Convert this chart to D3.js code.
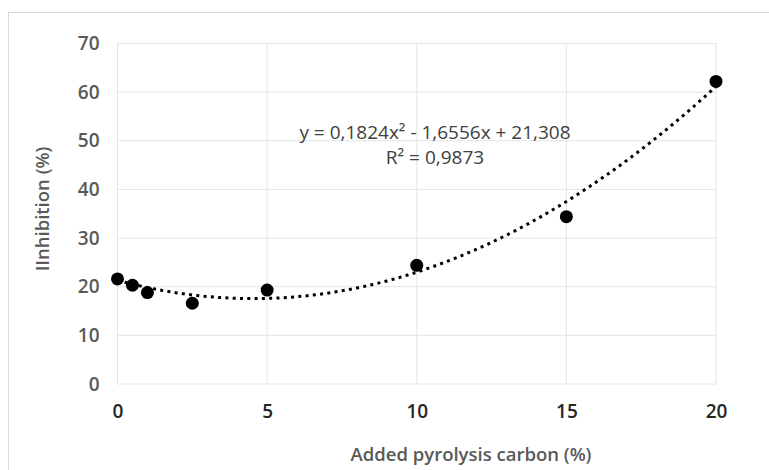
<!DOCTYPE html>
<html>
<head>
<meta charset="utf-8">
<script src="https://cdn.jsdelivr.net/npm/d3@7"></script>
<style>
  body { margin: 0; background: #fff; }
  svg { display: block; }
  svg text { font-family: "Open Sans", sans-serif; }
</style>
</head>
<body>
<div id="chart"></div>
<script>
// data
const carbon = [0, 0.5, 1, 2.5, 5, 10, 15, 20];
const inhibition = [21.6, 20.3, 18.8, 16.6, 19.3, 24.4, 34.4, 62.2];
const xTicks = [0, 5, 10, 15, 20];
const yTicks = [0, 10, 20, 30, 40, 50, 60, 70];
// trendline coefficients as printed on the chart: a*x^2 + b*x + c
const trendCoef = [0.1824, -1.6556, 21.308];
const equationLines = ["y = 0,1824x\u00b2 - 1,6556x + 21,308", "R\u00b2 = 0,9873"];

const width = 769, height = 470;
const margin = { top: 43.5, right: 53, bottom: 86, left: 117.5 };

const svg = d3.select('#chart')
    .append('svg')
    .attr('width', width)
    .attr('height', height);

// outer chart frame
svg.append('rect')
    .attr('x', 8.5).attr('y', 12.5)
    .attr('width', width + 20).attr('height', height + 20)
    .attr('fill', 'none')
    .attr('stroke', '#d9d9d9');

const x = d3.scaleLinear().domain([0, 20]).range([margin.left, width - margin.right]);
const y = d3.scaleLinear().domain([0, 70]).range([height - margin.bottom, margin.top]);

// gridlines
svg.append('g')
    .selectAll('line.h')
    .data(yTicks)
    .enter().append('line')
    .attr('x1', x(0)).attr('x2', x(20))
    .attr('y1', d => y(d)).attr('y2', d => y(d))
    .attr('stroke', '#e4e4e4').attr('stroke-width', 1);

svg.append('g')
    .selectAll('line.v')
    .data(xTicks)
    .enter().append('line')
    .attr('x1', d => x(d)).attr('x2', d => x(d))
    .attr('y1', y(0)).attr('y2', y(70))
    .attr('stroke', '#e4e4e4').attr('stroke-width', 1);

// axes (labels only)
const yAxis = svg.append('g')
    .attr('transform', `translate(${x(0)},0)`)
    .call(d3.axisLeft(y).tickValues(yTicks).tickSize(0).tickPadding(18));
yAxis.select('.domain').remove();
yAxis.selectAll('text')
    .attr('font-family', '"Open Sans", sans-serif')
    .style('font-size', '19px').style('font-weight', 600).attr('fill', '#595959');

const xAxis = svg.append('g')
    .attr('transform', `translate(0,${y(0)})`)
    .call(d3.axisBottom(x).tickValues(xTicks).tickSize(0).tickPadding(21));
xAxis.select('.domain').remove();
xAxis.selectAll('text')
    .attr('font-family', '"Open Sans", sans-serif')
    .style('font-size', '19px').style('font-weight', 600).attr('fill', '#262626');

// axis titles
svg.append('text')
    .attr('x', 471).attr('y', 461)
    .attr('text-anchor', 'middle')
    .style('font-size', '18.5px').style('font-weight', 600)
    .attr('fill', '#595959')
    .text('Added pyrolysis carbon (%)');

svg.append('text')
    .attr('transform', 'translate(49,209) rotate(-90)')
    .attr('text-anchor', 'middle')
    .style('font-size', '18.5px').style('font-weight', 600)
    .attr('fill', '#595959')
    .text('IInhibition (%)');

// polynomial trendline
const trendX = d3.range(0, 20.01, 0.25);
const trend = d3.line()
    .x(d => x(d))
    .y(d => y(trendCoef[0] * d * d + trendCoef[1] * d + trendCoef[2]));

svg.append('path')
    .datum(trendX)
    .attr('d', trend)
    .attr('fill', 'none')
    .attr('stroke', '#000')
    .attr('stroke-width', 3)
    .attr('stroke-dasharray', '3 4.3');

// points
svg.append('g')
    .selectAll('circle')
    .data(carbon)
    .enter().append('circle')
    .attr('cx', d => x(d))
    .attr('cy', (d, i) => y(inhibition[i]))
    .attr('r', 6.5)
    .attr('fill', '#000');

// equation label
svg.append('text')
    .attr('y', 139)
    .attr('text-anchor', 'middle')
    .style('font-size', '19px')
    .attr('fill', '#404040')
    .selectAll('tspan')
    .data(equationLines)
    .enter().append('tspan')
    .attr('x', 435)
    .attr('dy', (d, i) => i ? 25 : 0)
    .text(d => d);
</script>
</body>
</html>
